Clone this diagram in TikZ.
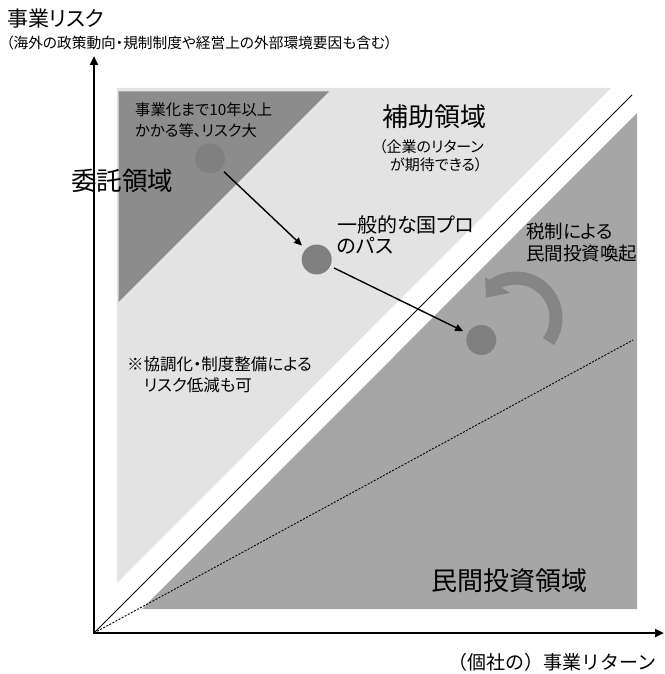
\documentclass[tikz,border=0pt]{standalone}
\usepackage{fontspec}
\setmainfont{Noto Sans CJK JP}[RawFeature=+palt]
\newfontfamily\fwjp{Noto Sans CJK JP}
\usetikzlibrary{arrows.meta}
\definecolor{lightbg}{HTML}{E3E3E3}
\definecolor{midbg}{HTML}{A6A6A6}
\definecolor{darktri}{HTML}{8C8C8C}
\definecolor{dotc}{HTML}{808080}
\definecolor{curvc}{HTML}{858585}
\begin{document}
\begin{tikzpicture}[x=1pt,y=-1pt,
  lbl/.style={inner sep=0pt, anchor=west, align=left, text=black},
  dotn/.style={circle, fill=dotc, minimum size=30pt, inner sep=0pt},
  axis/.style={line width=2.6pt, line cap=rect, -{Triangle[length=9pt,width=8pt]}},
  patharrow/.style={line width=1.4pt, -{Triangle[length=8pt,width=7pt]}, shorten <=4pt, shorten >=5pt}]
\useasboundingbox (0,0) rectangle (664,674);
% regions
\fill[lightbg] (117,88) -- (611,88) -- (117,583) -- cycle;
\fill[darktri] (118.5,91.5) -- (329,91.5) -- (118.5,302) -- cycle;
\fill[midbg] (637,113) -- (637,609) -- (142,609) -- cycle;
% lines and axes
\coordinate (O) at (94,633);
\coordinate (xend) at (664,633);
\coordinate (yend) at (94,56);
\coordinate (diagend) at (632,95);
\coordinate (dotend) at (633,340);
\draw[line width=0.9pt] (O) -- (diagend);
\draw[line width=0.9pt, dash pattern=on 2pt off 1.5pt] (O) -- (dotend);
\draw[axis] (O) -- (xend);
\draw[axis] (O) -- (yend);
% curved arrow
\coordinate (arcc) at (516,318);
\draw[curvc, line width=13pt]
  (arcc) ++(-36:40pt) arc[start angle=-36, end angle=128, radius=40pt];
\fill[curvc] (485,277) -- (510,293) -- (486,297.5) -- cycle;
% circles and path
\node[dotn] (c1) at (210,158.5) {};
\node[dotn] (c2) at (316.7,259.5) {};
\node[dotn] (c3) at (481.3,340) {};
\draw[patharrow] (c1) -- (c2);
\draw[patharrow] (c2) -- (c3);
% texts
\node[lbl, font=\fontsize{21}{24}\selectfont] (tyaxis) at (7,19) {事業リスク};
\node[lbl, font=\fontsize{14.7}{18}\selectfont] (tyaxis2) at (6,43) {（海外の政策動向・規制制度や経営上の外部環境要因も含む）};
\node[lbl, font=\fontsize{25.5}{28}\selectfont] (titaku) at (71,181) {委託領域};
\node[lbl, font=\fontsize{15.3}{20.5}\selectfont] (tlong) at (135,120) {事業化まで10年以上\\かかる等、リスク大};
\node[lbl, font=\fontsize{26}{28}\selectfont] (thojo) at (382,117) {補助領域};
\node[lbl, font=\fontsize{15}{18}\selectfont] (tret) at (379,156) {（企業のリターン\\\hspace*{11pt}が期待できる）};
\node[lbl, font=\fontsize{20}{21}\selectfont] (tkokupuro) at (337,235) {一般的な国プロ\\のパス};
\node[lbl, font=\fontsize{18.5}{22}\selectfont] (tzei) at (526,243) {税制による\\民間投資喚起};
\node[lbl, font=\fontsize{16.5}{21}\selectfont] (tkyocho) at (127,375) {※協調化・制度整備による\\　リスク低減も可};
\node[lbl, font=\fontsize{26}{28}\selectfont] (tminkan) at (431,581) {民間投資領域};
\node[lbl, font=\fwjp\fontsize{19}{22}\selectfont] (txaxis) at (448,662) {（個社の）事業リターン};
\end{tikzpicture}
\end{document}
